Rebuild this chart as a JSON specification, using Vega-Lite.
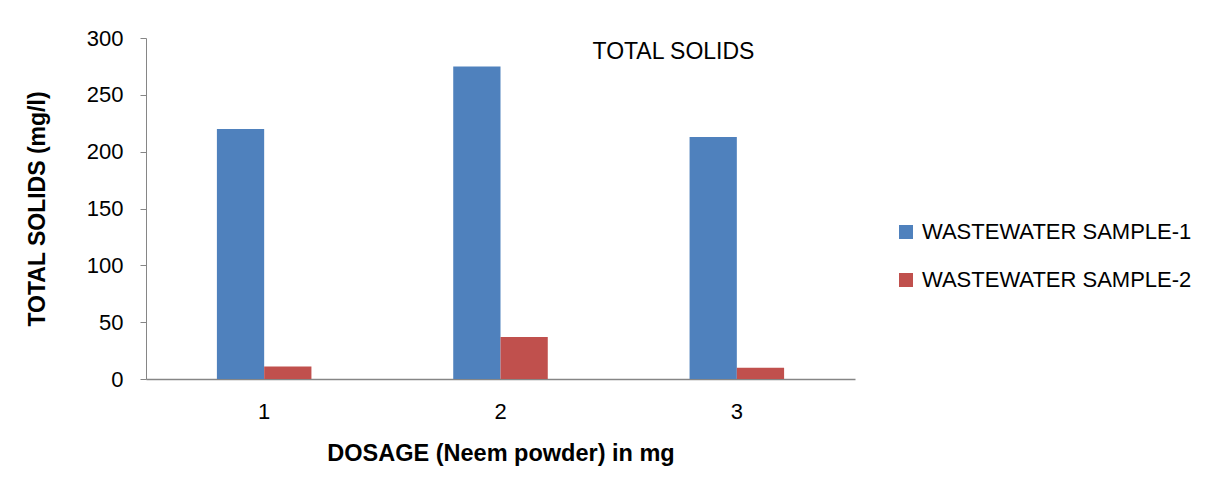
{
  "$schema": "https://vega.github.io/schema/vega-lite/v6.json",
  "width": 709,
  "height": 341,
  "autosize": {"type": "none"},
  "padding": {"left": 146, "top": 38, "right": 359, "bottom": 118},
  "background": "white",
  "config": {
    "font": "Liberation Sans",
    "view": {"stroke": null}
  },
  "layer": [
    {
      "data": {
        "values": [
          {"dosage": "1", "sample": "WASTEWATER SAMPLE-1", "ts": 220},
          {"dosage": "1", "sample": "WASTEWATER SAMPLE-2", "ts": 11},
          {"dosage": "2", "sample": "WASTEWATER SAMPLE-1", "ts": 275},
          {"dosage": "2", "sample": "WASTEWATER SAMPLE-2", "ts": 37},
          {"dosage": "3", "sample": "WASTEWATER SAMPLE-1", "ts": 213},
          {"dosage": "3", "sample": "WASTEWATER SAMPLE-2", "ts": 10}
        ]
      },
      "mark": {"type": "bar"},
      "encoding": {
        "x": {
          "field": "dosage",
          "type": "nominal",
          "scale": {"paddingInner": 0.6, "paddingOuter": 0.3},
          "axis": {
            "title": "DOSAGE (Neem powder) in mg",
            "titleFontSize": 23.5,
            "titleFontWeight": "bold",
            "titleColor": "black",
            "titlePadding": 19,
            "labelAngle": 0,
            "labelFontSize": 22,
            "labelColor": "black",
            "labelPadding": 22,
            "ticks": false,
            "domainColor": "#868686",
            "domainWidth": 1.5
          }
        },
        "xOffset": {
          "field": "sample",
          "type": "nominal",
          "scale": {"paddingInner": 0, "paddingOuter": 0}
        },
        "y": {
          "field": "ts",
          "type": "quantitative",
          "scale": {"domain": [0, 300]},
          "axis": {
            "title": "TOTAL SOLIDS (mg/l)",
            "titleFontSize": 23,
            "titleFontWeight": "bold",
            "titleColor": "black",
            "titlePadding": 37,
            "values": [0, 50, 100, 150, 200, 250, 300],
            "labelFontSize": 22,
            "labelColor": "black",
            "labelPadding": 17,
            "tickSize": 6,
            "tickColor": "#868686",
            "domainColor": "#868686",
            "grid": false
          }
        },
        "color": {
          "field": "sample",
          "type": "nominal",
          "scale": {"range": ["#4F81BD", "#C0504D"]},
          "legend": {
            "title": null,
            "orient": "none",
            "legendX": 749,
            "legendY": 183,
            "symbolType": "square",
            "symbolSize": 196,
            "symbolStrokeWidth": 0,
            "labelFontSize": 22,
            "labelColor": "black",
            "labelOffset": 5,
            "labelLimit": 400,
            "rowPadding": 26
          }
        }
      }
    },
    {
      "data": {"values": [{"label": "TOTAL SOLIDS"}]},
      "mark": {
        "type": "text",
        "align": "left",
        "baseline": "alphabetic",
        "fontSize": 23,
        "fontWeight": "normal",
        "color": "black",
        "dx": 92
      },
      "encoding": {
        "text": {"field": "label", "type": "nominal"},
        "x": {"datum": "2", "type": "nominal"},
        "y": {"datum": 281.5, "type": "quantitative"}
      }
    }
  ]
}
